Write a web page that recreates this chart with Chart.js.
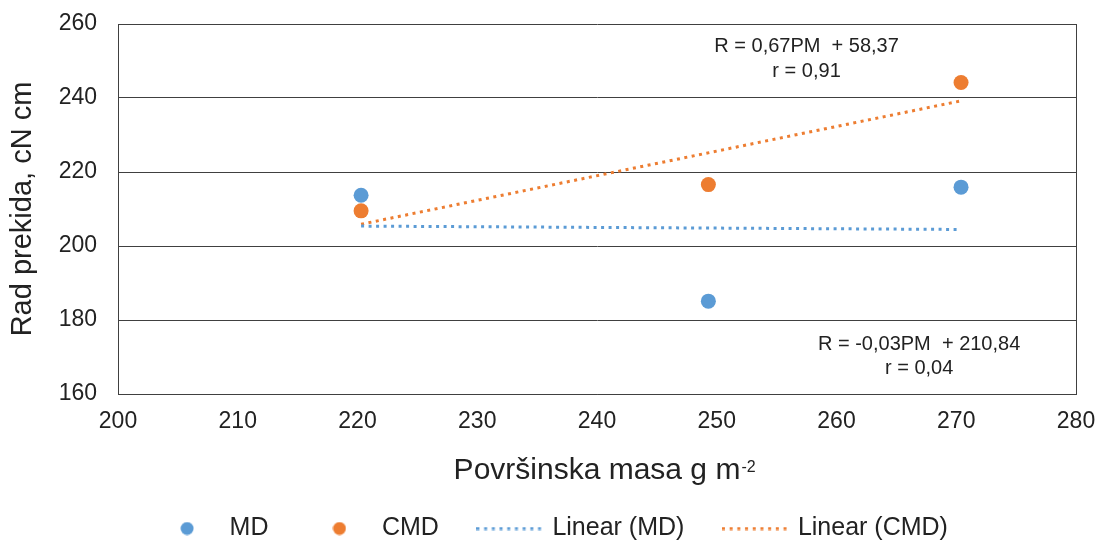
<!DOCTYPE html>
<html>
<head>
<meta charset="utf-8">
<script src="https://cdn.jsdelivr.net/npm/chart.js@4.4.1/dist/chart.umd.min.js"></script>
<style>
html,body{margin:0;padding:0;background:#ffffff;overflow:hidden;}
#wrap{width:1105px;height:543px;position:relative;}
</style>
</head>
<body>
<div id="wrap"><canvas id="c" width="1105" height="543"></canvas></div>
<script>
// ---- data ----
const masses = [220.3, 249.3, 270.4];          // Površinska masa, g m-2
const mdValues = [213.7, 185.1, 215.9];        // MD
const cmdValues = [209.5, 216.6, 244.2];       // CMD
const seriesNames = ['MD', 'CMD', 'Linear (MD)', 'Linear (CMD)'];
const xTicks = [200, 210, 220, 230, 240, 250, 260, 270, 280];
const yTicks = [160, 180, 200, 220, 240, 260];
const xTitle = 'Površinska masa g m';
const xTitleSup = '-2';
const yTitle = 'Rad prekida, cN cm';
const cmdEquation = ['R = 0,67PM  + 58,37', 'r = 0,91'];
const mdEquation = ['R = -0,03PM  + 210,84', 'r = 0,04'];

// ---- styles ----
const FAMILY = '"Liberation Sans", Arial, sans-serif';
const BLUE = '#5B9BD5';
const ORANGE = '#ED7D31';
const GRID = '#404040';
const TEXT = '#222222';
const NONE = 'rgba(0,0,0,0)';

function toPoints(xs, ys) { return xs.map((x, i) => ({x: x, y: ys[i]})); }

// least-squares trend line through the data, spanning the data range
function trendLine(xs, ys) {
  const n = xs.length;
  const mx = xs.reduce((a, b) => a + b, 0) / n;
  const my = ys.reduce((a, b) => a + b, 0) / n;
  let sxy = 0, sxx = 0;
  for (let i = 0; i < n; i++) { sxy += (xs[i] - mx) * (ys[i] - my); sxx += (xs[i] - mx) ** 2; }
  const b = sxy / sxx, a = my - b * mx;
  const x0 = Math.min(...xs), x1 = Math.max(...xs);
  return [{x: x0, y: a + b * x0}, {x: x1, y: a + b * x1}];
}

function dotImage(color) {
  const c = document.createElement('canvas');
  c.width = 14; c.height = 14;
  const g = c.getContext('2d');
  g.fillStyle = color;
  g.beginPath(); g.arc(7, 7, 6.5, 0, Math.PI * 2); g.fill();
  return c;
}
function dashImage(color) {
  const c = document.createElement('canvas');
  c.width = 67; c.height = 4;
  const g = c.getContext('2d');
  g.strokeStyle = color; g.lineWidth = 3;
  g.setLineDash([3, 4.7]);
  g.beginPath(); g.moveTo(0, 2); g.lineTo(67, 2); g.stroke();
  return c;
}
const legendImages = [dotImage(BLUE), dotImage(ORANGE), dashImage(BLUE), dashImage(ORANGE)];

const annotationPlugin = {
  id: 'equations',
  afterDatasetsDraw(chart) {
    const {ctx, scales: {x, y}} = chart;
    ctx.save();
    ctx.fillStyle = TEXT;
    ctx.font = '20px ' + FAMILY;
    ctx.textAlign = 'center';
    ctx.textBaseline = 'middle';
    const cx1 = x.getPixelForValue(257.5), cy1 = y.getPixelForValue(254.05);
    ctx.fillText(cmdEquation[0], cx1, cy1);
    ctx.fillText(cmdEquation[1], cx1, cy1 + 25);
    const cx2 = x.getPixelForValue(266.9), cy2 = y.getPixelForValue(173.4);
    ctx.fillText(mdEquation[0], cx2, cy2);
    ctx.fillText(mdEquation[1], cx2, cy2 + 24);
    ctx.restore();
  },
  afterDraw(chart) {
    const {ctx} = chart;
    const xs = chart.scales.x;
    ctx.save();
    ctx.font = '30px ' + FAMILY;
    const w = ctx.measureText(xTitle).width;
    const cx = (xs.left + xs.right) / 2;
    const titleY = xs.bottom - 30 * 1.2 / 2 + 13.5;
    ctx.font = '16px ' + FAMILY;
    ctx.fillStyle = TEXT;
    ctx.textAlign = 'left';
    ctx.textBaseline = 'middle';
    ctx.fillText(xTitleSup, cx + w / 2 + 1, titleY - 3);
    ctx.restore();
  }
};

new Chart(document.getElementById('c'), {
  type: 'scatter',
  data: {
    datasets: [
      {label: seriesNames[0], data: toPoints(masses, mdValues), backgroundColor: BLUE, borderColor: BLUE,
       borderWidth: 0, pointRadius: 7.5, pointHoverRadius: 7.5, order: 1},
      {label: seriesNames[1], data: toPoints(masses, cmdValues), backgroundColor: ORANGE, borderColor: ORANGE,
       borderWidth: 0, pointRadius: 7.5, pointHoverRadius: 7.5, order: 1},
      {label: seriesNames[2], type: 'line', data: trendLine(masses, mdValues), borderColor: BLUE, backgroundColor: BLUE,
       borderWidth: 3, borderDash: [3, 4.5], pointRadius: 0, fill: false, showLine: true, order: 2},
      {label: seriesNames[3], type: 'line', data: trendLine(masses, cmdValues), borderColor: ORANGE, backgroundColor: ORANGE,
       borderWidth: 3, borderDash: [3, 4.5], pointRadius: 0, fill: false, showLine: true, order: 2}
    ]
  },
  options: {
    responsive: false,
    animation: false,
    layout: {padding: {top: 24, right: 0, bottom: -8, left: 0}},
    scales: {
      x: {
        type: 'linear', min: 200, max: 280,
        afterBuildTicks: s => { s.ticks = xTicks.map(v => ({value: v})); },
        afterFit: s => { s.height = 81; },
        ticks: {font: {size: 23, family: FAMILY}, color: TEXT, padding: 0, maxRotation: 0, autoSkip: false},
        grid: {drawTicks: true, tickLength: 14, tickColor: NONE, lineWidth: 1,
               color: c => (c.tick && c.tick.value === 280) ? GRID : NONE},
        border: {display: true, color: GRID, width: 1},
        title: {display: true, text: xTitle, color: TEXT, font: {size: 30, family: FAMILY},
                padding: {top: 0, bottom: -13.5}}
      },
      y: {
        type: 'linear', min: 160, max: 260,
        afterBuildTicks: s => { s.ticks = yTicks.map(v => ({value: v})); },
        afterFit: s => { s.width = 118; },
        ticks: {font: {size: 23, family: FAMILY}, color: TEXT, padding: 0},
        grid: {drawTicks: true, tickLength: 21, tickColor: NONE, color: GRID, lineWidth: 1},
        border: {display: true, color: GRID, width: 1},
        title: {display: true, text: yTitle, color: TEXT, font: {size: 29, family: FAMILY},
                padding: {top: 6, bottom: 0}}
      },
      // empty right-hand gutter so the plot ends where the reference's does
      gutter: {
        type: 'linear', position: 'right', display: true,
        afterFit: s => { s.width = 29; },
        ticks: {display: false},
        grid: {display: false, drawTicks: false},
        border: {display: false}
      }
    },
    plugins: {
      tooltip: {enabled: false},
      legend: {
        position: 'bottom',
        labels: {
          usePointStyle: true,
          pointStyleWidth: 60,
          padding: 41,
          color: TEXT,
          font: {size: 25, family: FAMILY},
          generateLabels: chart => Chart.defaults.plugins.legend.labels.generateLabels(chart)
            .map(item => Object.assign(item, {pointStyle: legendImages[item.datasetIndex], lineDash: []}))
        }
      }
    }
  },
  plugins: [annotationPlugin]
});
</script>
</body>
</html>
